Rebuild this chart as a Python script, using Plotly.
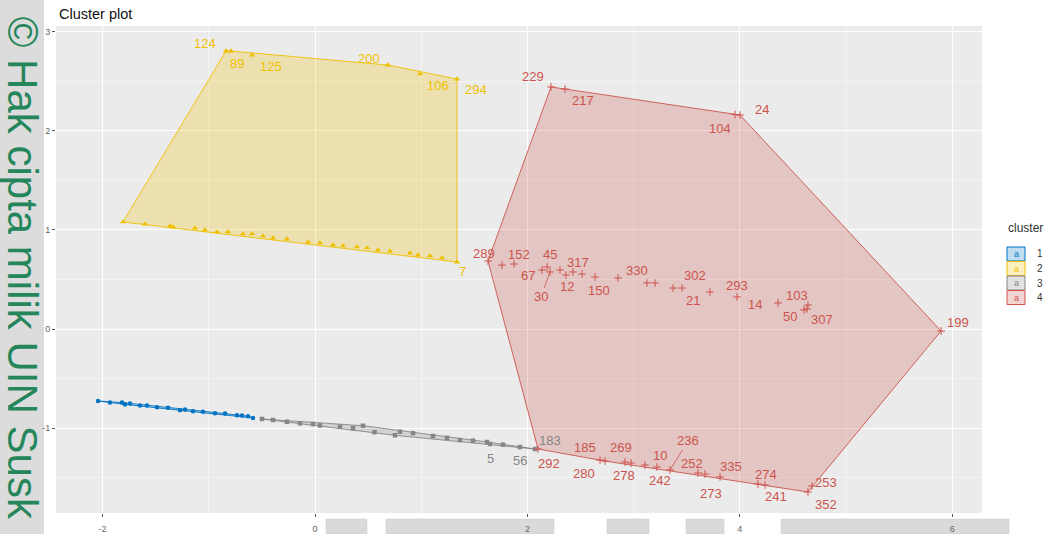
import plotly.graph_objects as go

# ---------------- data (Dim1, Dim2 coordinates per cluster) ----------------
c1_x = [-2.043, -1.930, -1.817, -1.789, -1.742, -1.648, -1.582, -1.488, -1.384, -1.271,
        -1.224, -1.149, -1.055, -0.942, -0.847, -0.734, -0.687, -0.631, -0.584]
c1_y = [-0.726, -0.740, -0.741, -0.760, -0.752, -0.770, -0.772, -0.790, -0.793, -0.820,
        -0.812, -0.830, -0.833, -0.850, -0.853, -0.870, -0.873, -0.880, -0.897]
c1_id = [""] * 19

c2_x = [-0.838, -0.791, -0.593, 0.687, 0.989, 1.337,
        -1.808, -1.601, -1.365, -1.337, -1.130, -1.036, -0.923, -0.819, -0.678, -0.593,
        -0.490, -0.395, -0.264, -0.066, 0.047, 0.169, 0.264, 0.395, 0.490, 0.593,
        0.706, 0.895, 0.970, 1.083, 1.196, 1.337]
c2_y = [2.802, 2.802, 2.762, 2.661, 2.571, 2.520,
        1.079, 1.058, 1.038, 1.028, 1.018, 0.998, 0.978, 0.978, 0.958, 0.958,
        0.938, 0.917, 0.907, 0.877, 0.867, 0.847, 0.837, 0.827, 0.817, 0.796,
        0.786, 0.766, 0.746, 0.736, 0.716, 0.675]
c2_id = ["124", "89", "125", "200", "106", "294",
         "", "", "", "", "", "", "", "", "", "",
         "", "", "", "", "", "", "", "", "", "",
         "", "", "", "", "", "7"]

c3_x = [-0.499, -0.395, -0.264, -0.141, -0.019, 0.047, 0.235, 0.358, 0.452, 0.560,
        0.753, 0.800, 0.923, 1.111, 1.243, 1.365, 1.488, 1.620, 1.648, 1.770, 1.930, 2.072]
c3_y = [-0.907, -0.917, -0.935, -0.950, -0.958, -0.972, -0.985, -1.000, -0.975, -1.040,
        -1.072, -1.036, -1.050, -1.079, -1.097, -1.119, -1.126, -1.139, -1.159, -1.166,
        -1.190, -1.210]
c3_id = [""] * 18 + ["5", "", "56", "183"]

c4_x = [2.222, 2.354, 3.955, 4.002, 5.895,
        1.629, 1.761, 1.874, 2.137, 2.185, 2.213, 2.307, 2.363, 2.429, 2.514, 2.637,
        2.853, 3.126, 3.202, 3.371, 3.456, 3.719, 3.974, 4.360, 4.605, 4.642, 4.633,
        2.100, 2.684, 2.731, 2.919, 2.976, 3.107, 3.220, 3.343, 3.606, 3.672, 3.814,
        4.171, 4.237, 4.680, 4.642]
c4_y = [2.440, 2.419, 2.162, 2.157, -0.020,
        0.685, 0.645, 0.655, 0.595, 0.625, 0.575, 0.595, 0.544, 0.575, 0.554, 0.524,
        0.514, 0.464, 0.464, 0.413, 0.413, 0.373, 0.323, 0.262, 0.192, 0.242, 0.202,
        -1.210, -1.321, -1.331, -1.341, -1.351, -1.371, -1.391, -1.421, -1.452, -1.462,
        -1.492, -1.563, -1.573, -1.583, -1.643]
c4_id = ["229", "217", "104", "24", "199",
         "289", "", "152", "67", "45", "30", "", "12", "317", "", "150",
         "330", "", "", "21", "302", "293", "14", "", "50", "103", "307",
         "292", "185", "280", "269", "278", "10", "242", "236", "252", "273", "335",
         "241", "274", "253", "352"]

cluster_names = ["1", "2", "3", "4"]
x_ticks = [-2, 0, 2, 4, 6]
y_ticks = [-1, 0, 1, 2, 3]

# ---------------- style ----------------
COLORS = ["#0073C2", "#EFC000", "#868686", "#CD534C"]
FILLS = ["rgba(0,115,194,0.25)", "rgba(239,192,0,0.25)",
         "rgba(134,134,134,0.25)", "rgba(205,83,76,0.25)"]
SYMBOLS = ["circle", "triangle-up", "square", "cross-thin-open"]
SIZES = [4.5, 5.5, 4.5, 5.5]
FONT = "Liberation Sans, Arial, sans-serif"

# label offsets in screen pixels (dx right, dy down) and which get a leader line
LABEL_OFFSET = {
    "124": (-21, -8), "89": (6, 12), "125": (19, 11), "200": (-19, -7),
    "106": (18, 12), "294": (19, 10), "7": (6, 9),
    "183": (15, -9), "5": (0, 15), "56": (0, 13),
    "229": (-18, -10), "217": (18, 11), "24": (22, -6), "104": (-15, 14),
    "199": (17, -8), "289": (-4, -8), "152": (5, -10), "45": (3, -13),
    "67": (-14, 6), "30": (-9, 25), "317": (5, -9), "12": (1, 11), "150": (4, 13),
    "330": (19, -8), "302": (13, -13), "21": (20, 12), "293": (27, -7),
    "14": (18, 8), "103": (-11, -9), "50": (-14, 7), "307": (15, 11),
    "292": (11, 14), "185": (-15, -13), "280": (-21, 12), "269": (-4, -15),
    "278": (-7, 12), "10": (15, -10), "242": (3, 14), "236": (18, -29),
    "252": (-6, -10), "273": (6, 19), "335": (11, -11), "274": (1, -11),
    "241": (18, 12), "253": (14, -4), "352": (18, 13),
}
LEADER = {"30", "236"}

# plot area in pixels
L, R, T, B = 56, 982, 26, 513
W, H = 1050, 534


def PX(p):
    return (p - L) / (R - L)


def PY(p):
    return (B - p) / (B - T)


def convex_hull(xs, ys):
    pts = sorted(set(zip(xs, ys)))
    if len(pts) < 3:
        return pts

    def cross(o, a, b):
        return (a[0] - o[0]) * (b[1] - o[1]) - (a[1] - o[1]) * (b[0] - o[0])

    lower, upper = [], []
    for p in pts:
        while len(lower) >= 2 and cross(lower[-2], lower[-1], p) <= 0:
            lower.pop()
        lower.append(p)
    for p in reversed(pts):
        while len(upper) >= 2 and cross(upper[-2], upper[-1], p) <= 0:
            upper.pop()
        upper.append(p)
    return lower[:-1] + upper[:-1]


clusters = [(c1_x, c1_y, c1_id), (c2_x, c2_y, c2_id), (c3_x, c3_y, c3_id), (c4_x, c4_y, c4_id)]

fig = go.Figure()

# hulls
for i, (xs, ys, ids) in enumerate(clusters):
    hull = convex_hull(xs, ys)
    hx = [p[0] for p in hull] + [hull[0][0]]
    hy = [p[1] for p in hull] + [hull[0][1]]
    fig.add_trace(go.Scatter(x=hx, y=hy, mode="lines", fill="toself",
                             fillcolor=FILLS[i], line=dict(color=COLORS[i], width=0.9),
                             hoverinfo="skip", showlegend=False))

# points
for i, (xs, ys, ids) in enumerate(clusters):
    mk = dict(color=COLORS[i], size=SIZES[i], symbol=SYMBOLS[i])
    if SYMBOLS[i].endswith("open"):
        mk["line"] = dict(color=COLORS[i], width=1)
    else:
        mk["line"] = dict(width=0)
    fig.add_trace(go.Scatter(x=xs, y=ys, mode="markers", marker=mk,
                             name=cluster_names[i], showlegend=False))

annotations = []
for i, (xs, ys, ids) in enumerate(clusters):
    for x, y, lab in zip(xs, ys, ids):
        if not lab:
            continue
        dx, dy = LABEL_OFFSET.get(lab, (0, -10))
        if lab in LEADER:
            annotations.append(dict(x=x, y=y, xref="x", yref="y", text=lab,
                                    showarrow=True, ax=dx, ay=dy, arrowhead=0,
                                    arrowwidth=0.8, arrowcolor=COLORS[i], standoff=0,
                                    font=dict(family=FONT, size=13, color=COLORS[i])))
        else:
            annotations.append(dict(x=x, y=y, xref="x", yref="y", text=lab,
                                    showarrow=False, xshift=dx, yshift=-dy,
                                    font=dict(family=FONT, size=13, color=COLORS[i])))

# title
annotations.append(dict(x=PX(57), y=PY(14), xref="paper", yref="paper", text="Cluster plot",
                        showarrow=False, xanchor="left", yanchor="middle",
                        font=dict(family=FONT, size=14.5, color="#111111")))

# manual legend
annotations.append(dict(x=PX(1025), y=PY(228), xref="paper", yref="paper", text="cluster",
                        showarrow=False, xanchor="center", yanchor="middle",
                        font=dict(family=FONT, size=12, color="#333333")))
shapes = []
box_top = 247
for i, name in enumerate(cluster_names):
    t = box_top + i * 14.5
    b = t + 14
    shapes.append(dict(type="rect", xref="paper", yref="paper",
                       x0=PX(1007), x1=PX(1025), y0=PY(b), y1=PY(t),
                       fillcolor=FILLS[i], line=dict(color=COLORS[i], width=1)))
    annotations.append(dict(x=PX(1016), y=PY((t + b) / 2), xref="paper", yref="paper",
                            text="a", showarrow=False, xanchor="center", yanchor="middle",
                            font=dict(family=FONT, size=9, color=COLORS[i])))
    annotations.append(dict(x=PX(1035), y=PY((t + b) / 2), xref="paper", yref="paper",
                            text=name, showarrow=False, xanchor="left", yanchor="middle",
                            font=dict(family=FONT, size=10, color="#333333")))

# watermark strip and text
shapes.append(dict(type="rect", xref="paper", yref="paper", x0=PX(0), x1=PX(44),
                   y0=PY(H), y1=PY(0), fillcolor="#DCDCDC", line=dict(width=0), layer="below"))
annotations.append(dict(x=PX(22), y=PY(14), xref="paper", yref="paper",
                        text="© Hak cipta milik UIN Susk", textangle=90,
                        showarrow=False, xanchor="center", yanchor="top",
                        font=dict(family=FONT, size=42, color="#24865A")))

# scan bars along the bottom edge
for x0, x1 in [(326, 367), (386, 554), (607, 649), (686, 724), (781, 1009)]:
    shapes.append(dict(type="rect", xref="paper", yref="paper", x0=PX(x0), x1=PX(x1),
                       y0=PY(534), y1=PY(519), fillcolor="#DADADA",
                       line=dict(color="#C8C8C8", width=0.5), layer="below"))

fig.update_layout(
    width=W, height=H,
    margin=dict(l=L, r=W - R, t=T, b=H - B, autoexpand=False),
    paper_bgcolor="white", plot_bgcolor="#EBEBEB",
    annotations=annotations, shapes=shapes,
    showlegend=False,
    xaxis=dict(range=[(L - 315) / 106.2, (R - 315) / 106.2], tickvals=x_ticks,
               ticktext=[str(v) for v in x_ticks], automargin=False,
               showgrid=True, gridcolor="white", gridwidth=1.2, zeroline=False,
               ticks="outside", ticklen=3, tickcolor="#555555", tickwidth=1,
               ticklabelstandoff=4,
               tickfont=dict(family=FONT, size=9, color="#666666"),
               minor=dict(tickvals=[-1, 1, 3, 5], showgrid=True, gridcolor="#F4F4F4",
                          gridwidth=0.6, ticks=""),
               showline=False, fixedrange=True),
    yaxis=dict(range=[(329 - B) / 99.2, (329 - T) / 99.2], tickvals=y_ticks,
               ticktext=[str(v) for v in y_ticks], automargin=False,
               showgrid=True, gridcolor="white", gridwidth=1.2, zeroline=False,
               ticks="outside", ticklen=3, tickcolor="#555555", tickwidth=1,
               tickfont=dict(family=FONT, size=9, color="#666666"),
               minor=dict(tickvals=[-1.5, -0.5, 0.5, 1.5, 2.5], showgrid=True,
                          gridcolor="#F4F4F4", gridwidth=0.6, ticks=""),
               showline=False, fixedrange=True),
)

fig.write_html("out.html", config={"displayModeBar": False},
               post_script="document.body.style.margin='0';document.body.style.padding='0';")
